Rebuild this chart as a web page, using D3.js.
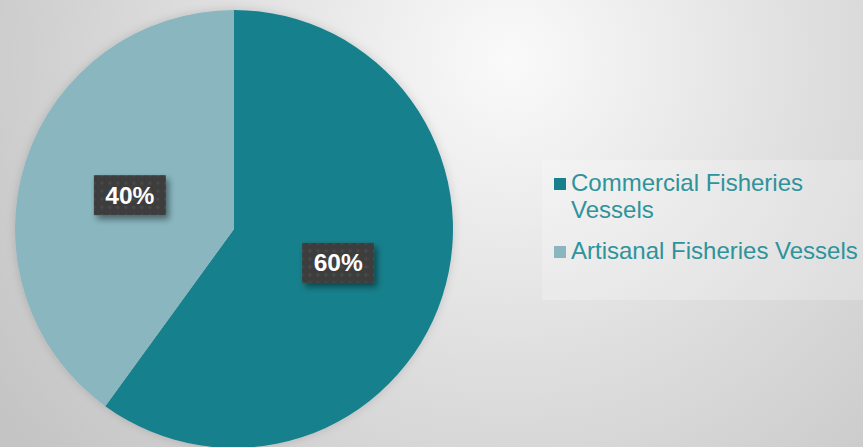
<!DOCTYPE html>
<html>
<head>
<meta charset="utf-8">
<script src="https://cdn.jsdelivr.net/npm/d3@7"></script>
<style>
  html, body { margin: 0; padding: 0; overflow: hidden; }
  svg { display: block; }
</style>
</head>
<body>
<script>
// Fleet composition
const categories = ["Commercial Fisheries Vessels", "Artisanal Fisheries Vessels"];
const legendLines = [["Commercial Fisheries", "Vessels"], ["Artisanal Fisheries Vessels"]];
const shares = [60, 40];
const sliceColors = ["#18808c", "#89b6bf"];

const W = 863, H = 447;
const cx = 234, cy = 229, R = 219;

const svg = d3.select("body").append("svg")
  .attr("width", W).attr("height", H);

const defs = svg.append("defs");

// soft grey backdrop
const bg = defs.append("radialGradient")
  .attr("id", "bg").attr("gradientUnits", "userSpaceOnUse")
  .attr("cx", 510).attr("cy", 60).attr("r", 620);
bg.append("stop").attr("offset", 0).attr("stop-color", "#fafafa");
bg.append("stop").attr("offset", 0.5).attr("stop-color", "#dedede");
bg.append("stop").attr("offset", 1).attr("stop-color", "#c4c4c4");

const pieShadow = defs.append("filter").attr("id", "pieShadow")
  .attr("x", "-10%").attr("y", "-10%").attr("width", "120%").attr("height", "120%");
pieShadow.append("feDropShadow").attr("dx", 0).attr("dy", 0)
  .attr("stdDeviation", 5).attr("flood-color", "#000").attr("flood-opacity", 0.15);

const boxShadow = defs.append("filter").attr("id", "boxShadow")
  .attr("x", "-30%").attr("y", "-30%").attr("width", "160%").attr("height", "180%");
boxShadow.append("feDropShadow").attr("dx", 3).attr("dy", 4)
  .attr("stdDeviation", 3).attr("flood-color", "#000").attr("flood-opacity", 0.45);

// faint dotted texture on the label boxes
const dots = defs.append("pattern").attr("id", "dots")
  .attr("patternUnits", "userSpaceOnUse").attr("width", 8).attr("height", 8);
dots.append("rect").attr("width", 8).attr("height", 8).attr("fill", "#3e3e3e");
dots.append("circle").attr("cx", 4).attr("cy", 4).attr("r", 1.6).attr("fill", "#494949");

svg.append("rect").attr("width", W).attr("height", H).attr("fill", "url(#bg)");

// pie
const pie = d3.pie().sort(null).value(d => d)(shares);
const arc = d3.arc().innerRadius(0).outerRadius(R);
const labelArc = d3.arc().innerRadius(0).outerRadius(R);

const g = svg.append("g").attr("transform", `translate(${cx},${cy})`);
g.append("g").attr("filter", "url(#pieShadow)")
  .selectAll("path").data(pie).join("path")
  .attr("d", arc)
  .attr("fill", (d, i) => sliceColors[i]);

// value labels
const fmt = d3.format(".0%");
const total = d3.sum(shares);
const lbl = g.selectAll("g.lbl").data(pie).join("g")
  .attr("class", "lbl")
  .attr("transform", d => {
    const [x, y] = labelArc.centroid(d);
    return `translate(${x},${y})`;
  });
lbl.append("rect")
  .attr("x", -36).attr("y", -20).attr("width", 72).attr("height", 40)
  .attr("fill", "url(#dots)")
  .attr("filter", "url(#boxShadow)");
lbl.append("text")
  .attr("text-anchor", "middle").attr("dy", "0.35em")
  .attr("font-family", "Liberation Sans, Arial, sans-serif")
  .attr("font-weight", "bold").attr("font-size", 24.5)
  .attr("fill", "#ffffff")
  .text(d => fmt(d.data / total));

// legend
const legend = svg.append("g");
legend.append("rect")
  .attr("x", 542).attr("y", 160).attr("width", W - 542).attr("height", 140)
  .attr("fill", "#ffffff").attr("fill-opacity", 0.22);

const legendY = [178, 246];
const items = legend.selectAll("g.item").data(categories).join("g")
  .attr("class", "item")
  .attr("transform", (d, i) => `translate(554,${legendY[i]})`);
items.append("rect")
  .attr("width", 12).attr("height", 12)
  .attr("fill", (d, i) => sliceColors[i]);
items.append("text")
  .attr("font-family", "Liberation Sans, Arial, sans-serif")
  .attr("font-size", 24)
  .attr("fill", "#2e939b")
  .selectAll("tspan").data((d, i) => legendLines[i]).join("tspan")
  .attr("x", 17)
  .attr("y", (t, j) => 13 + j * 27)
  .text(t => t);
</script>
</body>
</html>
